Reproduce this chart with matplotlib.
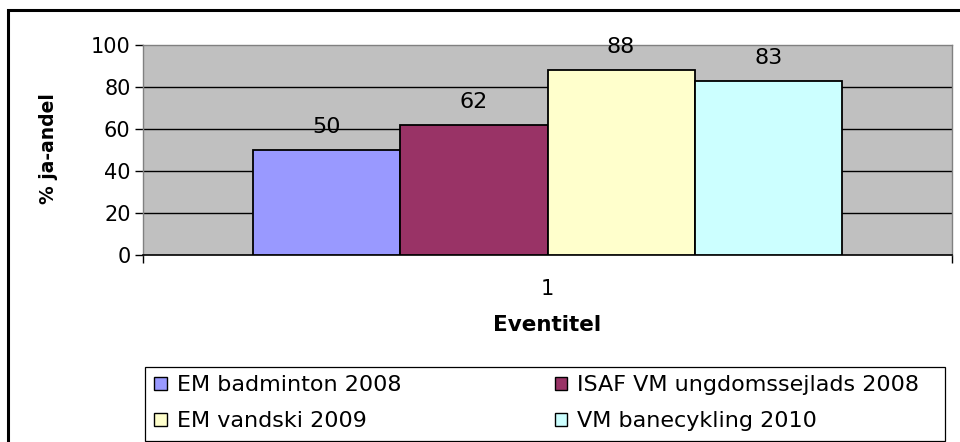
import matplotlib
matplotlib.use('Agg')
import matplotlib.pyplot as plt
from matplotlib.patches import Patch, Rectangle

EVENTS = [
    "EM badminton 2008",
    "ISAF VM ungdomssejlads 2008",
    "EM vandski 2009",
    "VM banecykling 2010",
]
JA_ANDEL = [50, 62, 88, 83]
BAR_COLORS = ["#9999FF", "#993366", "#FFFFCC", "#CCFFFF"]
Y_TICKS = [0, 20, 40, 60, 80, 100]

plt.rcParams['font.family'] = ['DejaVu Sans']
FS = 15

W, H = 960, 442
fig = plt.figure(figsize=(W / 100, H / 100), dpi=100)

# outer chart border (right/bottom cut off in the reference)
fig.patches.append(Rectangle((8 / W, -0.2), 1.3, (H - 10) / H + 0.2,
                             transform=fig.transFigure, fill=False,
                             edgecolor='black', linewidth=2.2))

ax = fig.add_axes([143 / W, (H - 255) / H, 809 / W, 210 / H])
ax.set_facecolor('#C0C0C0')

bw = 0.182
n = len(JA_ANDEL)
for i in range(n):
    x = 1 + (i - (n - 1) / 2) * bw
    ax.bar(x, JA_ANDEL[i], width=bw, color=BAR_COLORS[i], edgecolor='black',
           linewidth=1.3, zorder=3)
    ax.annotate(str(JA_ANDEL[i]), (x, JA_ANDEL[i]), xytext=(0, 9.5),
                textcoords='offset points', ha='center', va='bottom',
                fontsize=16, zorder=4)

ax.set_xlim(0.5, 1.5)
ax.set_ylim(0, 100)
ax.set_yticks(Y_TICKS)
ax.set_yticklabels([str(t) for t in Y_TICKS], fontsize=FS)
ax.tick_params(axis='y', length=6, width=1, direction='out', pad=3)
for t in Y_TICKS[1:-1]:
    ax.axhline(t, color='black', linewidth=1, zorder=1)

ax.set_xticks([1])
ax.set_xticklabels(["1"], fontsize=FS)
ax.set_xticks([0.5, 1.5], minor=True)
ax.tick_params(axis='x', which='major', length=0, pad=17)
ax.tick_params(axis='x', which='minor', length=6, width=1, direction='out')

for s in ['top', 'right', 'left']:
    ax.spines[s].set_color('#808080')
    ax.spines[s].set_linewidth(1)
ax.spines['bottom'].set_color('black')
ax.spines['bottom'].set_linewidth(1.2)

ax.set_xlabel("Eventitel", fontsize=15.5, fontweight='bold')
ax.xaxis.set_label_coords(0.5, (255 - 325) / 210)
ax.xaxis.label.set_va('center')
ax.set_ylabel("% ja-andel", fontsize=13.5, fontweight='bold')
ax.yaxis.set_label_coords((48 - 143) / 809, (255 - 149) / 210)
ax.yaxis.label.set_va('center')

# legend box
fig.patches.append(Rectangle((145 / W, (H - 441) / H), 800 / W, 74 / H,
                             transform=fig.transFigure, fill=False,
                             edgecolor='black', linewidth=0.9))
handles = [Patch(facecolor=BAR_COLORS[i], edgecolor='black', linewidth=1, label=EVENTS[i])
           for i in range(n)]
order = [0, 2, 1, 3]
fig.legend([handles[i] for i in order], [EVENTS[i] for i in order],
           ncol=2, loc='upper left', bbox_to_anchor=(150 / W, (H - 371) / H),
           frameon=False, fontsize=16, handlelength=0.55, handleheight=0.55,
           handletextpad=0.45, columnspacing=6.9, labelspacing=0.72,
           borderpad=0.2, borderaxespad=0)

plt.savefig("out.png", dpi=100)
